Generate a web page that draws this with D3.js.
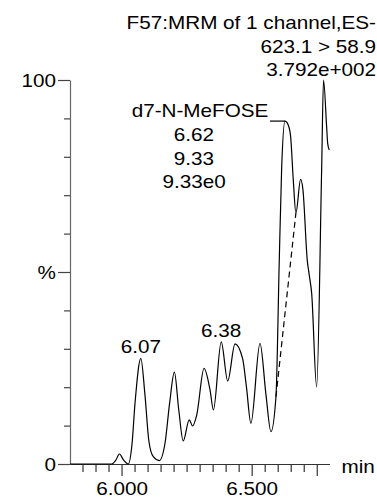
<!DOCTYPE html>
<html>
<head>
<meta charset="utf-8">
<script src="https://cdn.jsdelivr.net/npm/d3@7"></script>
<style>
  html, body { margin: 0; padding: 0; background: #fff; }
  svg { display: block; }
  text { font-family: "Liberation Sans", Arial, Helvetica, sans-serif; fill: #000; }
</style>
</head>
<body>
<svg id="chart" width="377" height="499"></svg>
<script>
// ---- data ----
const times = [5.802, 5.962, 5.978, 5.992, 6.008, 6.026, 6.040, 6.052, 6.074, 6.090, 6.105, 6.122, 6.145,
  6.167, 6.185, 6.203, 6.220, 6.237, 6.260, 6.273, 6.289, 6.317, 6.340, 6.353, 6.383, 6.408, 6.436, 6.465,
  6.480, 6.497, 6.532, 6.555, 6.574, 6.5933, 6.606, 6.615, 6.628, 6.6405, 6.6498, 6.6598, 6.670, 6.688,
  6.697, 6.7135, 6.7212, 6.7304, 6.7496, 6.7688, 6.776, 6.788, 6.792, 6.798];
const intensity = [0, 0, 1.0, 2.6, 1.0, 0, 5, 16, 27.5, 18, 6, 1.9, 0.9,
  5.4, 16, 23.9, 14, 6.0, 11.5, 9.9, 12.8, 24.9, 19.3, 14.1, 31.8, 21.6, 31.3, 27.5,
  20, 10.6, 31.4, 18, 8.4, 17.5, 53, 76.6, 89.3, 88.3, 85.2, 74, 65.4, 74.1,
  71.4, 53.1, 49.2, 44.5, 20.1, 76.6, 100, 87.8, 83.5, 81.8];
const baselineTimes = [6.5933, 6.670];
const baselineValues = [17.5, 65.4];
const peakLabels = ["6.07", "6.38"];
const peakLabelTimes = [6.074, 6.383];
const peakLabelValues = [27.5, 31.8];
const headerLines = ["F57:MRM of 1 channel,ES-", "623.1 > 58.9", "3.792e+002"];
const compoundName = "d7-N-MeFOSE";
const compoundInfo = ["6.62", "9.33", "9.33e0"];
const compoundTime = 6.628, compoundValue = 89.3;
const xTickValues = [5.85, 5.90, 5.95, 6.00, 6.05, 6.10, 6.15, 6.20, 6.25, 6.30, 6.35, 6.40, 6.45, 6.50,
  6.55, 6.60, 6.65, 6.70, 6.75];
const xTickLabels = {"6.00": "6.000", "6.50": "6.500"};
const xMajor = ["6.00", "6.50", "6.75"];
const yTickValues = [0, 10, 20, 30, 40, 50, 60, 70, 80, 90, 100];
const yTickLabels = {0: "0", 50: "%", 100: "100"};

// ---- layout ----
const FS = 18, SX = 1.15;
const svg = d3.select("#chart");
const x = d3.scaleLinear().domain([5.802, 6.799]).range([70, 329.5]);
const y = d3.scaleLinear().domain([0, 100]).range([464, 80]);

function stretchedText(parent, str, tx, ty, anchor) {
  return parent.append("text")
    .attr("transform", `translate(${tx},${ty}) scale(${SX},1)`)
    .attr("text-anchor", anchor)
    .attr("font-size", FS)
    .text(str);
}

// X axis
const xAxis = d3.axisBottom(x).tickValues(xTickValues).tickSize(8).tickSizeOuter(0)
  .tickFormat(d => xTickLabels[d.toFixed(2)] || "");
const gx = svg.append("g").attr("transform", `translate(0,${y(0)})`).call(xAxis);
gx.select(".domain").attr("stroke", "#333").attr("stroke-width", 1.2);
gx.selectAll(".tick line").attr("stroke", "#333").attr("stroke-width", 1.2)
  .attr("y2", d => xMajor.includes(d.toFixed(2)) ? 12 : 8);
gx.selectAll(".tick text")
  .attr("x", null).attr("y", null).attr("dy", null)
  .attr("transform", `translate(0,31) scale(${SX},1)`)
  .attr("font-size", FS).attr("font-family", null).attr("fill", "#000");
stretchedText(svg, "min", 341.5, 473, "start");

// Y axis
const yAxis = d3.axisLeft(y).tickValues(yTickValues).tickSize(6).tickSizeOuter(0)
  .tickFormat(d => yTickLabels[d] || "");
const gy = svg.append("g").attr("transform", `translate(${x.range()[0]},0)`).call(yAxis);
gy.select(".domain").attr("stroke", "#666").attr("stroke-width", 1.2);
gy.selectAll(".tick line").attr("stroke", "#444").attr("stroke-width", 1.2)
  .attr("x2", d => yTickLabels[d] !== undefined ? -12 : -6);
gy.selectAll(".tick text")
  .attr("x", null).attr("dy", null)
  .attr("transform", `translate(-14,6.8) scale(${SX},1)`)
  .attr("font-size", FS).attr("font-family", null).attr("fill", "#000");

// Trace
const pts = times.map((t, i) => [t, intensity[i]]);
const line = d3.line().x(d => x(d[0])).y(d => y(d[1])).curve(d3.curveMonotoneX);
svg.append("path").datum(pts).attr("d", line)
  .attr("fill", "none").attr("stroke", "#000").attr("stroke-width", 1.2).attr("stroke-linejoin", "round");

// Integration baseline (dashed)
const bpts = baselineTimes.map((t, i) => [t, baselineValues[i]]);
svg.append("path").datum(bpts).attr("d", d3.line().x(d => x(d[0])).y(d => y(d[1])))
  .attr("fill", "none").attr("stroke", "#000").attr("stroke-width", 1.2).attr("stroke-dasharray", "6,4");

// Peak labels
peakLabels.forEach((s, i) => {
  stretchedText(svg, s, x(peakLabelTimes[i]), y(peakLabelValues[i]) - 5, "middle");
});

// Header
headerLines.forEach((s, i) => stretchedText(svg, s, 376, 29 + i * 23.5, "end"));

// Compound annotation
stretchedText(svg, compoundName, 200, 117, "middle");
compoundInfo.forEach((s, i) => stretchedText(svg, s, 194, 141 + i * 23.5, "middle"));
svg.append("line")
  .attr("x1", 270).attr("x2", x(compoundTime))
  .attr("y1", y(compoundValue)).attr("y2", y(compoundValue))
  .attr("stroke", "#000").attr("stroke-width", 1.2);
</script>
</body>
</html>
